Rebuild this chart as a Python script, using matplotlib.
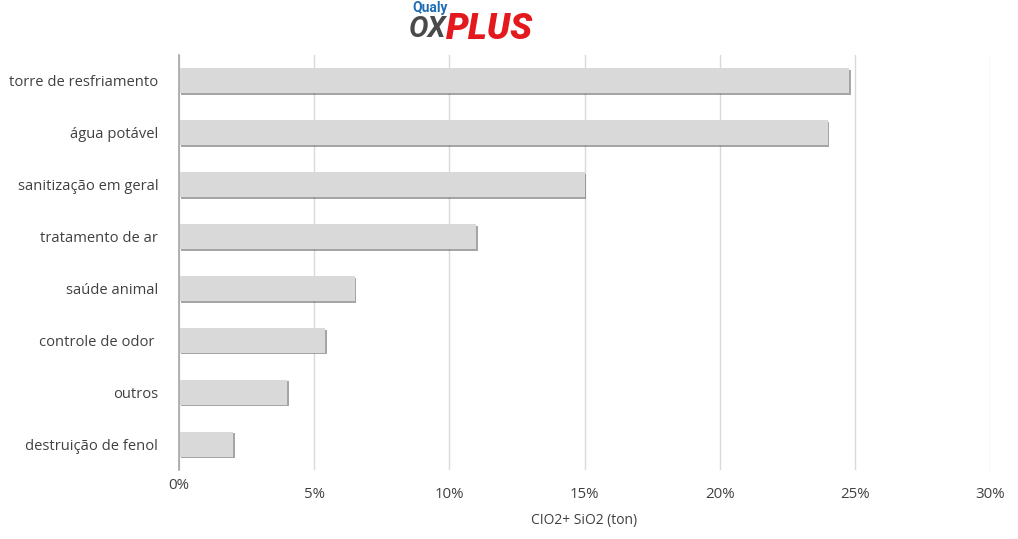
import matplotlib
matplotlib.use("Agg")
import matplotlib.pyplot as plt
import matplotlib.patheffects as pe
from matplotlib.ticker import FixedLocator

categories = ["torre de resfriamento", "água potável", "sanitização em geral",
              "tratamento de ar", "saúde animal", "controle de odor ",
              "outros", "destruição de fenol"]
values = [24.8, 24.0, 15.0, 11.0, 6.5, 5.4, 4.0, 2.0]
xticks = [0, 5, 10, 15, 20, 25, 30]
xtick_labels = ["0%", "5%", "10%", "15%", "20%", "25%", "30%"]
xlabel = "CIO2+ SiO2 (ton)"

plt.rcParams['font.family'] = ['Open Sans', 'DejaVu Sans']
text_color = "#404040"

fig = plt.figure(figsize=(10.18, 5.39), dpi=100)
ax = fig.add_axes([179/1018, 1-470/539, (990-179)/1018, (470-55)/539])

ypos = list(range(len(categories)))
bars = ax.barh(ypos, values, height=0.48, color="#d9d9d9", zorder=3)
for b in bars:
    b.set_path_effects([pe.SimplePatchShadow(offset=(1.2, -1.2), shadow_rgbFace="#7f7f7f", alpha=0.7),
                        pe.Normal()])

ax.set_ylim(len(categories) - 0.5, -0.5)
ax.set_xlim(0, 30)
ax.set_yticks(ypos)
ax.set_yticklabels(categories, fontsize=10.6, color=text_color)
ax.xaxis.set_major_locator(FixedLocator(xticks))
ax.set_xticklabels(xtick_labels, fontsize=10.8, color=text_color)
ax.tick_params(axis='y', length=0, pad=15)
ax.tick_params(axis='x', length=0, pad=12)
ax.xaxis.get_major_ticks()[0].label1.set_y(0.02)

ax.grid(axis='x', color="#d9d9d9", linewidth=1, zorder=0)
for s in ["top", "right", "bottom"]:
    ax.spines[s].set_visible(False)
ax.spines["left"].set_color("#a6a6a6")
ax.spines["left"].set_linewidth(1.2)
ax.spines["left"].set_zorder(4)

ax.set_xlabel(xlabel, fontsize=10, color=text_color, labelpad=8)

# logo
fig.text(412/1018, 1-8/539, "Qualy", fontsize=10, fontweight='bold', color="#1f6db4",
         va='center', ha='left', family=['Roboto', 'DejaVu Sans'])
fig.text(409/1018, 1-29/539, "OX", fontsize=21, fontweight='bold', fontstyle='italic',
         color="#4a4a4a", va='center', ha='left', family=['Roboto', 'DejaVu Sans'])
fig.text(446/1018, 1-29/539, "PLUS", fontsize=26, fontweight='black', fontstyle='italic',
         color="#e3191e", va='center', ha='left', family=['Roboto', 'DejaVu Sans'])

fig.savefig("out.png", dpi=100, facecolor="white")
